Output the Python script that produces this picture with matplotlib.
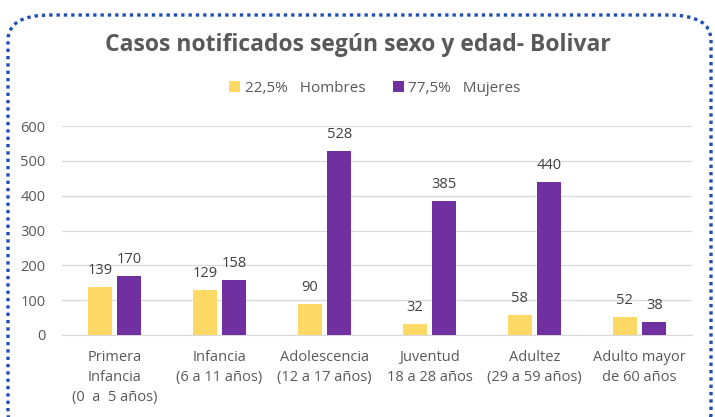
import numpy as np
import matplotlib.pyplot as plt
from matplotlib.patches import FancyBboxPatch

plt.rcParams['font.family'] = ['Open Sans', 'DejaVu Sans']

# Data
categorias = ["Primera\nInfancia\n(0  a  5 años)", "Infancia\n(6 a 11 años)",
              "Adolescencia\n(12 a 17 años)", "Juventud\n18 a 28 años",
              "Adultez\n(29 a 59 años)", "Adulto mayor\nde 60 años"]
hombres = [139, 129, 90, 32, 58, 52]
mujeres = [170, 158, 528, 385, 440, 38]
etiquetas = ["22,5%   Hombres", "77,5%   Mujeres"]

fig = plt.figure(figsize=(7.15, 4.17), dpi=100)
ax = fig.add_axes([62 / 715, 1 - 335 / 417, 630 / 715, 209 / 417])

x = np.arange(len(categorias))
w = 0.23
b1 = ax.bar(x - 0.14, hombres, w, color='#FFD966', label=etiquetas[0], zorder=3)
b2 = ax.bar(x + 0.14, mujeres, w, color='#7030A0', label=etiquetas[1], zorder=3)

for bars in (b1, b2):
    for r in bars:
        ax.text(r.get_x() + r.get_width() / 2, r.get_height() + 25, str(int(r.get_height())),
                ha='center', va='bottom', fontsize=10.5, color='#404040')

ax.set_xlim(-0.5, len(categorias) - 0.5)
ax.set_ylim(0, 600)
ax.set_yticks(range(0, 601, 100))
ax.set_xticks(x)
ax.set_xticklabels(categorias, fontsize=10.5, color='#595959', linespacing=1.45)
ax.tick_params(axis='y', labelsize=10.5, labelcolor='#595959', length=0, pad=12)
ax.tick_params(axis='x', length=0, pad=11)
ax.grid(axis='y', color='#d9d9d9', lw=0.9, zorder=0)
for s in ['top', 'right', 'left']:
    ax.spines[s].set_visible(False)
ax.spines['bottom'].set_color('#d9d9d9')

fig.text(0.5, 1 - 45 / 417, "Casos notificados según sexo y edad- Bolivar", ha='center', va='center',
         fontsize=16.5, fontweight='bold', color='#595959')
fig.legend(handles=[b1, b2], labels=etiquetas, loc='center', bbox_to_anchor=(375 / 715, 1 - 88 / 417),
           ncol=2, frameon=False, fontsize=11, labelcolor='#595959', handlelength=0.7, handleheight=0.7,
           handletextpad=0.3, columnspacing=1.8)

border = FancyBboxPatch((8 / 715, -0.05), 703 / 715, 1.0 - 15 / 417 + 0.05,
                        boxstyle="round,pad=0,rounding_size=0.06", transform=fig.transFigure,
                        fill=False, edgecolor='#1F4FB0', lw=2.4, linestyle=(0, (1, 1.2)), clip_on=False)
fig.patches.append(border)

fig.savefig('out.png', dpi=100)
